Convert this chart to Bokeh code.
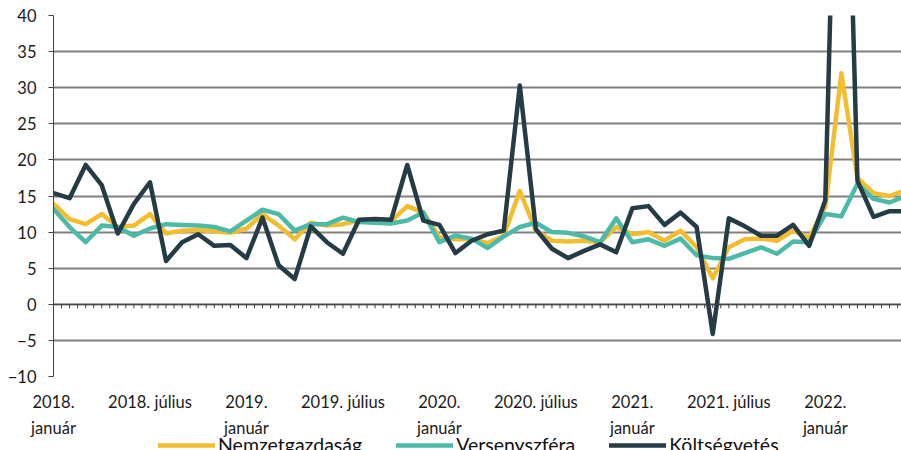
import numpy as np
from bokeh.plotting import figure
from bokeh.layouts import column
from bokeh.models import (Range1d, FixedTicker, Span, Legend, LegendItem, ColumnDataSource)
from bokeh.embed import file_html
from bokeh.resources import INLINE

# monthly index 0 = 2018. január
nemzetgazdasag = [13.9, 11.8, 11.1, 12.5, 10.7, 10.9, 12.5, 9.8, 10.2, 10.3,
                  10.1, 9.9, 10.5, 12.5, 10.9, 9.0, 11.3, 10.9, 11.1, 11.6,
                  11.5, 11.5, 13.6, 12.7, 9.3, 9.0, 9.0, 8.5, 9.5, 15.7,
                  10.2, 8.8, 8.7, 8.8, 8.6, 10.7, 9.7, 10.0, 8.8, 10.2,
                  7.9, 3.6, 7.9, 9.0, 9.1, 8.8, 10.2, 9.2, 13.5, 32.0,
                  17.5, 15.4, 15.0, 15.8]
versenyszfera = [13.2, 10.7, 8.6, 10.9, 10.7, 9.5, 10.5, 11.1, 11.0, 10.9,
                 10.7, 10.1, 11.6, 13.1, 12.5, 10.2, 11.1, 11.1, 12.0, 11.4,
                 11.3, 11.2, 11.6, 12.7, 8.6, 9.5, 9.1, 7.8, 9.4, 10.7,
                 11.3, 10.0, 9.9, 9.4, 8.6, 11.9, 8.6, 9.0, 8.1, 9.1,
                 6.8, 6.4, 6.3, 7.1, 7.9, 7.0, 8.7, 8.6, 12.5, 12.2,
                 16.7, 14.6, 14.1, 15.0]
koltsegvetes = [15.4, 14.7, 19.3, 16.5, 9.8, 13.9, 16.9, 6.0, 8.6, 9.7,
                8.1, 8.2, 6.4, 12.0, 5.4, 3.5, 10.8, 8.6, 7.0, 11.7,
                11.8, 11.7, 19.3, 11.6, 11.0, 7.1, 8.8, 9.7, 10.2, 30.3,
                10.4, 7.7, 6.4, 7.4, 8.3, 7.2, 13.3, 13.6, 11.0, 12.7,
                10.7, -4.1, 11.9, 10.8, 9.5, 9.5, 11.0, 8.1, 14.4, 98.0,
                17.1, 12.1, 12.9, 12.9]
month_index = list(range(len(nemzetgazdasag)))

tick_positions = [0, 6, 12, 18, 24, 30, 36, 42, 48]
tick_labels_line1 = ["2018.", "2018. július", "2019.", "2019. július", "2020.",
                     "2020. július", "2021.", "2021. július", "2022."]
january_positions = [0, 12, 24, 36, 48]
tick_labels_line2 = ["január", "január", "január", "január", "január"]
y_ticks = [-10, -5, 0, 5, 10, 15, 20, 25, 30, 35, 40]

series_names = ["Nemzetgazdaság", "Versenyszféra", "Költségvetés"]
series_colors = ["#F3BD2F", "#4DBAA9", "#253B45"]

FONT = "Lato"
shared_x = Range1d(0, 52.74)

p = figure(width=901, height=414, output_backend="svg", toolbar_location=None,
           x_range=shared_x, y_range=Range1d(-10, 40),
           min_border_left=53, min_border_top=15, min_border_right=0,
           min_border_bottom=36)
p.outline_line_color = None
p.background_fill_color = "white"
p.border_fill_color = "white"

p.xaxis.ticker = FixedTicker(ticks=tick_positions)
p.xaxis.major_label_overrides = {t: l for t, l in zip(tick_positions, tick_labels_line1)}
p.xaxis.axis_line_color = None
p.xaxis.major_tick_line_color = None
p.xaxis.minor_tick_line_color = None
p.xaxis.major_tick_out = 0
p.xaxis.major_label_standoff = 15
p.xaxis.major_label_text_font = FONT
p.xaxis.major_label_text_font_size = "16.5px"
p.xaxis.major_label_text_color = "#1a1a1a"
p.xaxis.major_label_text_line_height = 1.0

p.yaxis.ticker = FixedTicker(ticks=y_ticks)
p.yaxis.axis_line_color = "#444444"
p.yaxis.axis_line_width = 1
p.yaxis.major_tick_line_color = "#444444"
p.yaxis.major_tick_out = 5
p.yaxis.major_tick_in = 0
p.yaxis.minor_tick_line_color = None
p.yaxis.major_label_standoff = 12
p.yaxis.major_label_text_font = FONT
p.yaxis.major_label_text_font_size = "16.5px"
p.yaxis.major_label_text_color = "#1a1a1a"

p.xgrid.grid_line_color = None
p.ygrid.ticker = FixedTicker(ticks=y_ticks)
p.ygrid.grid_line_color = "#808080"
p.ygrid.grid_line_width = 2

# zero axis line with small ticks
p.add_layout(Span(location=0, dimension="width", line_color="#3c3c3c", line_width=1))
tx = np.arange(0, 53, 0.5)
p.segment(x0=tx, y0=np.zeros_like(tx), x1=tx, y1=np.full_like(tx, -0.55),
          line_color="#3c3c3c", line_width=1)

src = ColumnDataSource(dict(x=month_index, a=nemzetgazdasag, b=versenyszfera, c=koltsegvetes))
for col, color in zip(["a", "b", "c"], series_colors):
    p.line("x", col, source=src, line_color=color, line_width=4.5,
           line_join="round", line_cap="round")

# lower strip: second line of the date labels and the legend
lf = figure(width=901, height=36, output_backend="svg", toolbar_location=None,
            x_range=shared_x, y_range=Range1d(200, 201),
            x_axis_location="above", y_axis_location=None,
            min_border_left=53, min_border_top=20, min_border_right=0,
            min_border_bottom=0)
lf.outline_line_color = None
lf.background_fill_color = "white"
lf.border_fill_color = "white"
lf.xgrid.grid_line_color = None
lf.ygrid.grid_line_color = None
lf.xaxis.ticker = FixedTicker(ticks=january_positions)
lf.xaxis.major_label_overrides = {t: l for t, l in zip(january_positions, tick_labels_line2)}
lf.xaxis.axis_line_color = None
lf.xaxis.major_tick_line_color = None
lf.xaxis.minor_tick_line_color = None
lf.xaxis.major_tick_out = 0
lf.xaxis.major_label_standoff = 0
lf.xaxis.major_label_text_font = FONT
lf.xaxis.major_label_text_font_size = "16.5px"
lf.xaxis.major_label_text_color = "#1a1a1a"
lf.xaxis.major_label_text_line_height = 1.0

legend_renderers = []
for col, color in zip(["a", "b", "c"], series_colors):
    r = lf.line("x", col, source=src, line_color=color, line_width=4.5,
                line_join="round", line_cap="round")
    legend_renderers.append(r)

legend = Legend(items=[LegendItem(label=n, renderers=[r]) for n, r in zip(series_names, legend_renderers)],
                orientation="horizontal", location=(105, -6))
legend.border_line_color = None
legend.background_fill_alpha = 0
legend.padding = 0
legend.margin = 0
legend.spacing = 34
legend.label_standoff = 3
legend.glyph_width = 57
legend.glyph_height = 14
legend.label_height = 14
legend.label_text_font = FONT
legend.label_text_font_size = "19.5px"
legend.label_text_color = "#111111"
lf.add_layout(legend)

layout = column(p, lf, spacing=0)
open("out.html", "w").write(file_html(layout, INLINE))
